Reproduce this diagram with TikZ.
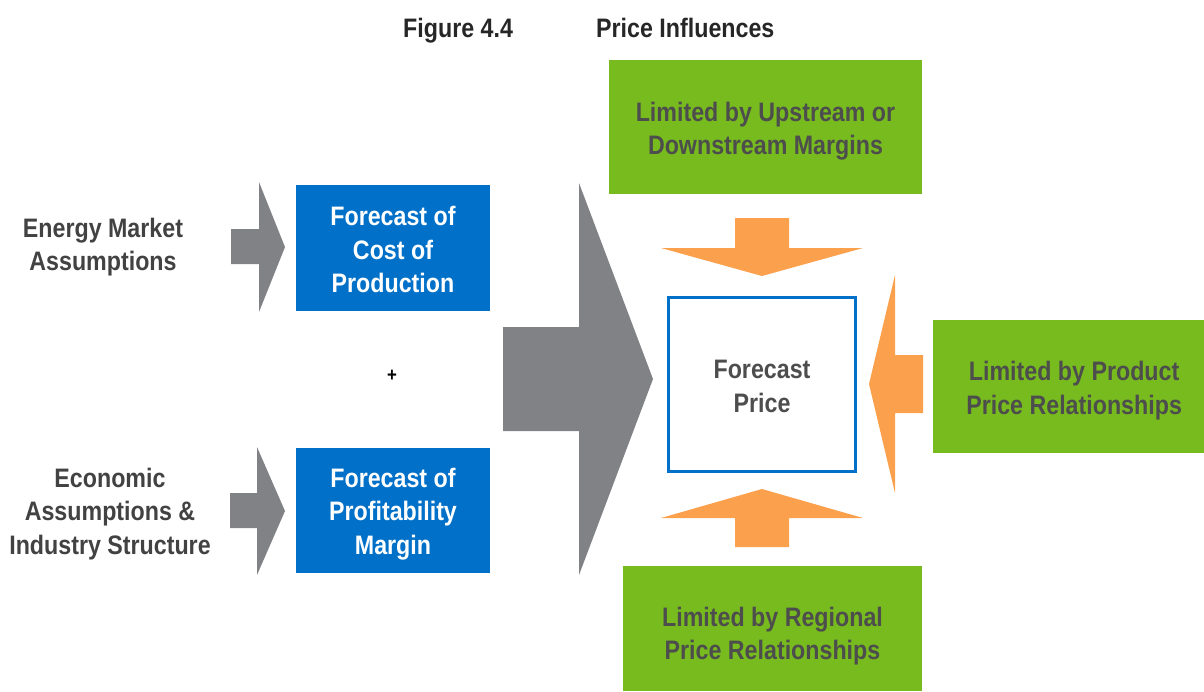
\documentclass[tikz,border=0pt]{standalone}
\usepackage{fontspec}
\setmainfont{Liberation Sans}[FakeStretch=0.87]
\usepackage{tikz}
\usetikzlibrary{calc}

\definecolor{kostblau}{RGB}{0,112,200}
\definecolor{grenzgruen}{RGB}{119,187,31}
\definecolor{pfeilorange}{RGB}{251,160,76}
\definecolor{pfeilgrau}{RGB}{129,130,134}
\definecolor{schrift}{RGB}{77,77,77}

\begin{document}
\begin{tikzpicture}[x=0.02cm,y=-0.02cm,
    every node/.style={font=\fontsize{15.2}{19}\selectfont\bfseries, align=center},
    blaukasten/.style={fill=kostblau, text=white},
    gruenkasten/.style={fill=grenzgruen, text=schrift},
    annahme/.style={text=schrift!85!black}]
    \useasboundingbox (0,0) rectangle (1204,691);

    % Ueberschrift
    \node[anchor=base west, text=black!85] (fig) at (397,37) {Figure 4.4};
    \node[anchor=base west, text=black!85] (titel) at (590,37) {Price Influences};

    % Annahmen links
    \node[annahme] (energie) at (103,247) {Energy Market\\Assumptions};
    \node[annahme] (wirtschaft) at (110,514) {Economic\\Assumptions \&\\Industry Structure};

    % kleine graue Pfeile
    \fill[pfeilgrau] (231,229) -- (259,229) -- (259,182) -- (285,247) -- (259,312)
        -- (259,264) -- (231,264) -- cycle;
    \fill[pfeilgrau] (230,493) -- (257,493) -- (257,447) -- (285,511) -- (257,575)
        -- (257,528) -- (230,528) -- cycle;

    % Prognosen
    \fill[blaukasten] (296,185) rectangle node[yshift=-1pt] (kosten) {Forecast of\\Cost of\\Production} (490,311);
    \fill[blaukasten] (296,448) rectangle node[yshift=-2pt] (marge) {Forecast of\\Profitability\\Margin} (490,573);
    \node[text=black, font=\fontsize{11}{13}\selectfont\bfseries] (plus) at (392,376) {+};

    % grosser grauer Pfeil
    \fill[pfeilgrau] (503,327) -- (579,327) -- (579,183) -- (653,379) -- (579,575)
        -- (579,431) -- (503,431) -- cycle;

    % Preis in der Mitte
    \draw[kostblau, line width=1.7pt, fill=white] (668.5,297.5) rectangle
        node[text=schrift, yshift=-1pt] (preis) {Forecast\\Price} (855.5,471.5);

    % orange Pfeile auf den Preis
    \fill[pfeilorange] (735,218) -- (789,218) -- (789,248) -- (863,248) -- (762,276)
        -- (661,248) -- (735,248) -- cycle;
    \fill[pfeilorange] (735,547) -- (789,547) -- (789,518) -- (863,518) -- (762,489)
        -- (661,518) -- (735,518) -- cycle;
    \fill[pfeilorange] (923,355) -- (923,413) -- (895,413) -- (895,493) -- (869,384)
        -- (895,275) -- (895,355) -- cycle;

    % Grenzen
    \fill[gruenkasten] (609,60) rectangle node[yshift=-2.3pt] (oben) {Limited by Upstream or\\Downstream Margins} (922,194);
    \fill[gruenkasten] (933,320) rectangle node[yshift=-2.3pt, xshift=3.2pt] (rechts) {Limited by Product\\Price Relationships} (1204,453);
    \fill[gruenkasten] (623,566) rectangle node[yshift=-4.2pt] (unten) {Limited by Regional\\Price Relationships} (922,691);
\end{tikzpicture}
\end{document}
